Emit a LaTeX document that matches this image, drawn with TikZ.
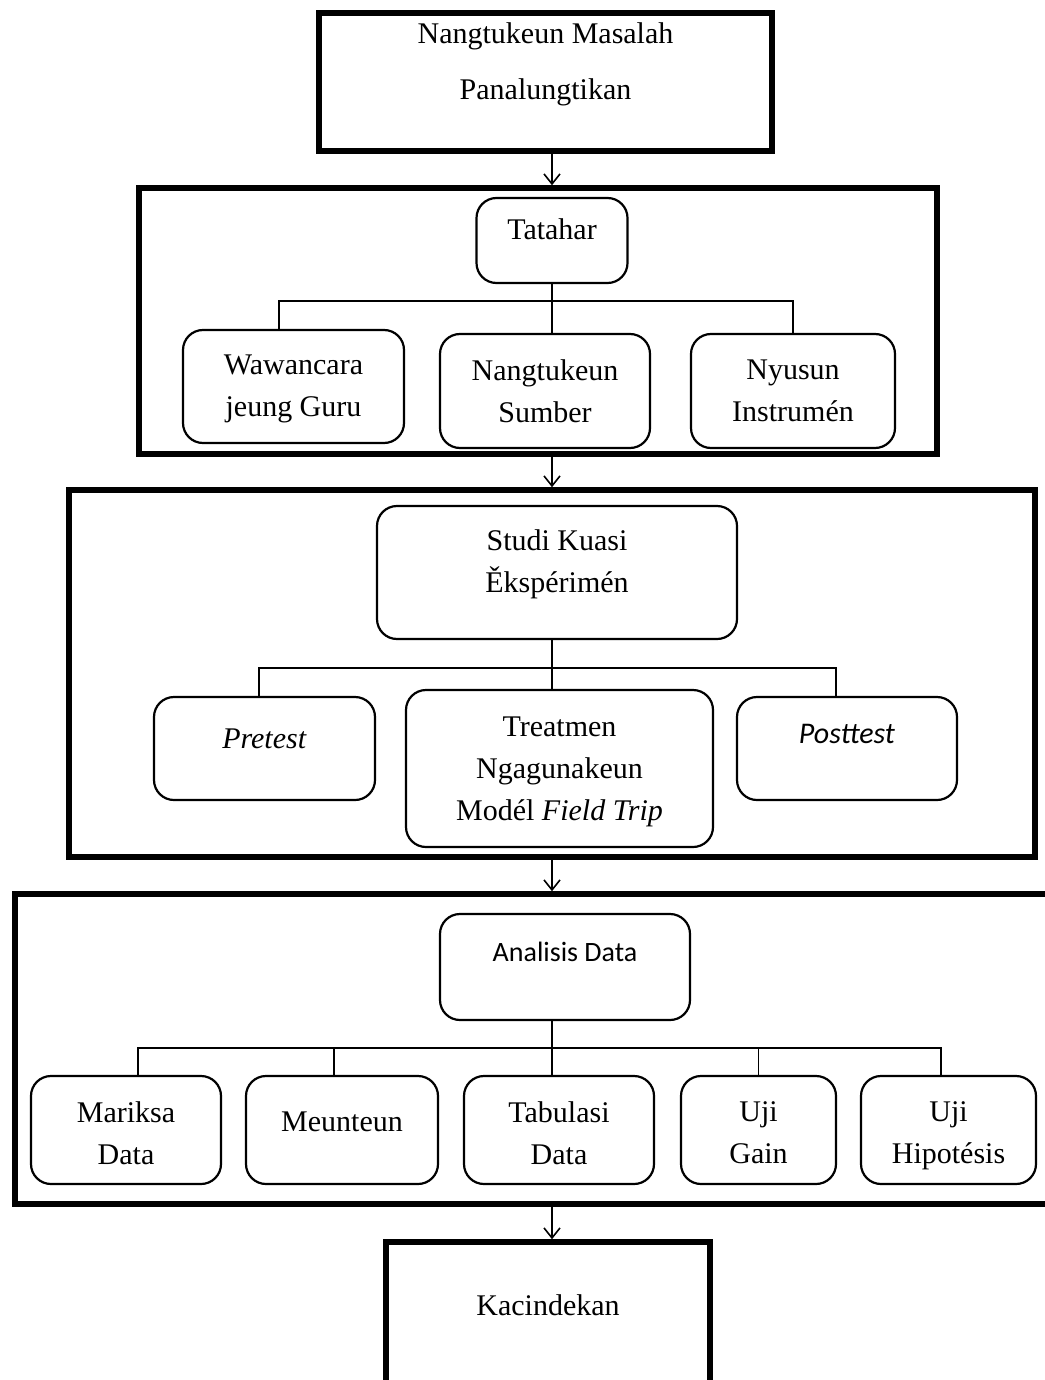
\documentclass[tikz,border=0pt]{standalone}
\usepackage{fontspec}
\setmainfont{Liberation Serif}
\newfontfamily\calibri{Carlito}
\usetikzlibrary{arrows.meta}
\tikzset{
	link/.style={line width=0.8pt},
	flow/.style={link, -{Straight Barb[length=5pt, width=8pt]}},
	groupbox/.style={
		draw,
		rectangle,
		line width=2.8pt,
		inner sep=0pt
	},
	stepbox/.style={
		draw,
		rectangle,
		rounded corners=10pt,
		line width=1.1pt,
		inner sep=0pt
	},
	dims/.style 2 args={minimum width=#1*0.5pt, minimum height=#2*0.5pt}
}
\newcommand{\stepnode}[6]{% name, position, width, height, text lift, text
	\node[stepbox, dims={#3}{#4}, label={[align=center, yshift=#5]center:{#6}}] (#1) at (#2) {}
}
\newcommand{\framenode}[6]{% name, position, width, height, text lift, text
	\node[groupbox, dims={#3}{#4}, label={[align=center, yshift=#5]center:{#6}}] (#1) at (#2) {}
}

\begin{document}
\begin{tikzpicture}[x=0.5pt, y=-0.5pt, font=\fontsize{15}{21}\selectfont]
	\useasboundingbox (0,0) rectangle (1044,1380);
	\coordinate (spine) at (552,0);
	
	% frames
	\framenode{masalah}{545.5,82}{453}{138}{9pt}{Nangtukeun Masalah\\[7pt]Panalungtikan};
	\framenode{fr-tatahar}{538,321}{798}{266}{0pt}{};
	\framenode{fr-studi}{552,673.5}{966}{367}{0pt}{};
	\framenode{fr-analisis}{537.5,1049}{1045}{310}{0pt}{};
	\framenode{kacindekan}{548,1321}{324}{158}{8pt}{Kacindekan};
	
	% tatahar
	\stepnode{tatahar}{552,240.5}{151}{85}{5.5pt}{Tatahar};
	\stepnode{wawancara}{293.5,386.5}{221}{113}{-1pt}{Wawancara\\jeung Guru};
	\stepnode{sumber}{545,391}{210}{114}{0pt}{Nangtukeun\\Sumber};
	\stepnode{nyusun}{793,391}{204}{114}{0pt}{Nyusun\\Instrumén};
	
	% studi kuasi
	\stepnode{studi}{557,572.5}{360}{133}{4pt}{Studi Kuasi\\Ěkspérimén};
	\stepnode{pretest}{264.5,748.5}{221}{103}{5pt}{\textit{Pretest}};
	\stepnode{treatmen}{559.5,768.5}{307}{157}{-1.5pt}{Treatmen\\Ngagunakeun\\Modél \textit{Field Trip}};
	\stepnode{posttest}{847,748.5}{220}{103}{7.5pt}{\calibri\itshape Posttest};
	
	% analisis
	\stepnode{analisis}{565,967}{250}{106}{7.5pt}{\calibri\fontsize{14}{18}\selectfont Analisis Data};
	\stepnode{mariksa}{126,1130}{190}{108}{-1.5pt}{Mariksa\\Data};
	\stepnode{meunteun}{342,1130}{192}{108}{4pt}{Meunteun};
	\stepnode{tabulasi}{559,1130}{190}{108}{-1.5pt}{Tabulasi\\Data};
	\stepnode{gain}{758.5,1130}{155}{108}{-1.5pt}{Uji\\Gain};
	\stepnode{hipotesis}{948.5,1130}{175}{108}{-3pt}{Uji\\Hipotésis};
	
	\coordinate (bus1) at (552,301);
	\coordinate (bus2) at (552,668);
	\coordinate (bus3) at (552,1048);
	
	\draw[flow] (masalah.south -| spine) -- (fr-tatahar.north -| spine);
	\draw[flow] (fr-tatahar.south -| spine) -- (fr-studi.north -| spine);
	\draw[flow] (fr-studi.south -| spine) -- (fr-analisis.north -| spine);
	\draw[flow] (fr-analisis.south -| spine) -- (kacindekan.north -| spine);
	
	\draw[link] (tatahar.south -| spine) -- (sumber.north -| spine);
	\draw[link] ([xshift=-7.25pt]wawancara.north) |- (bus1) -| (nyusun.north);
	
	\draw[link] (studi.south -| spine) -- (treatmen.north -| spine);
	\draw[link] ([xshift=-2.75pt]pretest.north) |- (bus2) -| ([xshift=-5.5pt]posttest.north);
	
	\draw[link] (analisis.south -| spine) -- (tabulasi.north -| spine);
	\draw[link] ([xshift=6pt]mariksa.north) |- (bus3) -| ([xshift=-3.75pt]hipotesis.north);
	\draw[link] ([xshift=-4pt]meunteun.north) -- ([xshift=-4pt]meunteun.north |- bus3);
	\draw[link] (gain.north) -- (gain.north |- bus3);
\end{tikzpicture}
\end{document}
